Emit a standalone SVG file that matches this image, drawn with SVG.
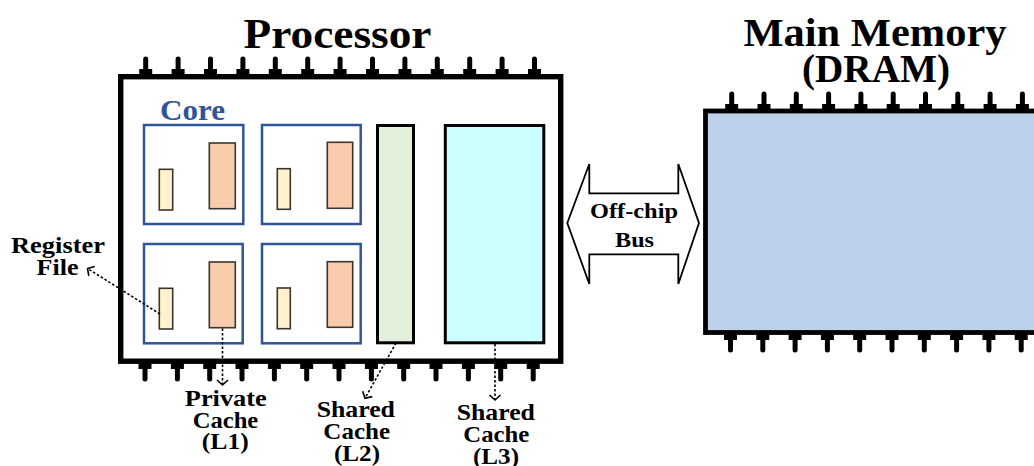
<svg xmlns="http://www.w3.org/2000/svg" width="1034" height="466" viewBox="0 0 1034 466">
<style>
  text { font-family: "Liberation Serif", "Times New Roman", serif; font-weight: bold; fill: #000; text-anchor: middle; }
  .title { font-size: 42px; }
  .lbl { font-size: 24px; }
  .core { fill: #fff; stroke: #2F5597; stroke-width: 2.5; }
  .reg { fill: #FFF2CC; stroke: #3A3530; stroke-width: 1.6; }
  .l1 { fill: #F8CBAD; stroke: #3A3530; stroke-width: 1.6; }
  .dot { fill: none; stroke: #000; stroke-width: 1.6; stroke-dasharray: 2.5 2; }
  .pin { fill: #000; }
</style>
<defs>
  <path id="pin" class="pin" d="M-2.5,-15 A2.5,2.5 0 0 1 2.5,-15 V-5 H6.5 V1.5 H-6.5 V-5 H-2.5 Z"/>
  <marker id="chev" viewBox="-7 -7 9 14" markerWidth="9" markerHeight="14" refX="0" refY="0" orient="auto" markerUnits="userSpaceOnUse">
    <path d="M-5,-5.5 L0,0 L-5,5.5" fill="none" stroke="#000" stroke-width="1.6"/>
  </marker>
</defs>

<!-- Processor -->
<g id="processor">
  <text class="title" x="337.5" y="48" textLength="188" lengthAdjust="spacingAndGlyphs">Processor</text>
  <g id="proc-pins-top">
    <use href="#pin" x="145.7" y="74"/><use href="#pin" x="178.1" y="74"/><use href="#pin" x="210.5" y="74"/>
    <use href="#pin" x="242.9" y="74"/><use href="#pin" x="275.3" y="74"/><use href="#pin" x="307.7" y="74"/>
    <use href="#pin" x="340.1" y="74"/><use href="#pin" x="372.5" y="74"/><use href="#pin" x="404.9" y="74"/>
    <use href="#pin" x="437.3" y="74"/><use href="#pin" x="469.7" y="74"/><use href="#pin" x="502.1" y="74"/>
    <use href="#pin" x="534.5" y="74"/>
  </g>
  <g id="proc-pins-bottom" transform="translate(0,364) scale(1,-1)">
    <use href="#pin" x="145" y="0"/><use href="#pin" x="177.4" y="0"/><use href="#pin" x="209.7" y="0"/>
    <use href="#pin" x="242" y="0"/><use href="#pin" x="274.4" y="0"/><use href="#pin" x="306.7" y="0"/>
    <use href="#pin" x="339" y="0"/><use href="#pin" x="371.4" y="0"/><use href="#pin" x="403.7" y="0"/>
    <use href="#pin" x="436" y="0"/><use href="#pin" x="468.4" y="0"/><use href="#pin" x="500.7" y="0"/>
    <use href="#pin" x="533.2" y="0"/>
  </g>
  <rect x="120.7" y="76.7" width="440" height="284.5" fill="#fff" stroke="#000" stroke-width="5.4"/>
  <text x="192.5" y="120" style="font-size:30px; fill:#2F5597" textLength="65" lengthAdjust="spacingAndGlyphs">Core</text>
</g>

<g id="core1">
  <rect class="core" x="144" y="125" width="99.3" height="99"/>
  <rect class="reg" x="159.3" y="169.3" width="13.4" height="40.7"/>
  <rect class="l1" x="209.3" y="143" width="26" height="65.7"/>
</g>
<g id="core2">
  <rect class="core" x="262" y="125" width="98.7" height="99"/>
  <rect class="reg" x="277.3" y="168.7" width="13" height="40.6"/>
  <rect class="l1" x="327.3" y="142.3" width="25.4" height="66"/>
</g>
<g id="core3">
  <rect class="core" x="144" y="244" width="98.7" height="99.3"/>
  <rect class="reg" x="159.3" y="288.3" width="13.4" height="40.7"/>
  <rect class="l1" x="209.3" y="262" width="26" height="65.7"/>
</g>
<g id="core4">
  <rect class="core" x="262" y="244" width="98.7" height="99.3"/>
  <rect class="reg" x="277.3" y="288" width="13" height="40.7"/>
  <rect class="l1" x="327.3" y="261.7" width="25.4" height="65.6"/>
</g>

<g id="l2-cache">
  <rect x="377.5" y="125.5" width="36" height="217.3" fill="#E2EFDA" stroke="#000" stroke-width="3"/>
</g>
<g id="l3-cache">
  <rect x="445.3" y="125.5" width="98.5" height="217.3" fill="#CCFFFF" stroke="#000" stroke-width="3"/>
</g>

<!-- Off-chip bus -->
<g id="bus">
  <path d="M567.3,223 L589.3,164 L589.3,193.3 L678.3,193.3 L678.3,164 L699,223 L678.3,284 L678.3,254.3 L589.3,254.3 L589.3,284 Z" fill="#fff" stroke="#000" stroke-width="1.8" stroke-linejoin="miter"/>
  <text x="634" y="218.3" style="font-size:22px" textLength="88" lengthAdjust="spacingAndGlyphs">Off-chip</text>
  <text x="634.5" y="246.7" style="font-size:22px" textLength="39" lengthAdjust="spacingAndGlyphs">Bus</text>
</g>

<!-- Main memory -->
<g id="memory">
  <text class="title" x="875" y="46" style="font-size:40px" textLength="263" lengthAdjust="spacingAndGlyphs">Main Memory</text>
  <text class="title" x="876" y="82" style="font-size:40px" textLength="148" lengthAdjust="spacingAndGlyphs">(DRAM)</text>
  <g id="mem-pins-top">
    <use href="#pin" x="731.7" y="109"/><use href="#pin" x="764" y="109"/><use href="#pin" x="796.3" y="109"/>
    <use href="#pin" x="828.6" y="109"/><use href="#pin" x="860.9" y="109"/><use href="#pin" x="893.2" y="109"/>
    <use href="#pin" x="925.5" y="109"/><use href="#pin" x="957.8" y="109"/><use href="#pin" x="990.1" y="109"/>
    <use href="#pin" x="1022.4" y="109"/>
  </g>
  <g id="mem-pins-bottom" transform="translate(0,335) scale(1,-1)">
    <use href="#pin" x="730.5" y="0"/><use href="#pin" x="762.8" y="0"/><use href="#pin" x="795.1" y="0"/>
    <use href="#pin" x="827.4" y="0"/><use href="#pin" x="859.7" y="0"/><use href="#pin" x="892" y="0"/>
    <use href="#pin" x="924.3" y="0"/><use href="#pin" x="956.6" y="0"/><use href="#pin" x="988.9" y="0"/>
    <use href="#pin" x="1021.2" y="0"/>
  </g>
  <rect x="705.5" y="111" width="340" height="221.5" fill="#BDD1EA" stroke="#000" stroke-width="4.8"/>
</g>

<!-- Labels -->
<g id="label-register">
  <text x="58" y="253" style="font-size:23px" textLength="94" lengthAdjust="spacingAndGlyphs">Register</text>
  <text x="57.5" y="275" style="font-size:23px" textLength="42" lengthAdjust="spacingAndGlyphs">File</text>
</g>
<g id="label-l1">
  <text class="lbl" x="225.8" y="406" textLength="82" lengthAdjust="spacingAndGlyphs">Private</text>
  <text class="lbl" x="225.5" y="428.3" textLength="65.6" lengthAdjust="spacingAndGlyphs">Cache</text>
  <text class="lbl" x="225.3" y="449" textLength="47" lengthAdjust="spacingAndGlyphs">(L1)</text>
</g>
<g id="label-l2">
  <text class="lbl" x="355.8" y="416.7" textLength="78.3" lengthAdjust="spacingAndGlyphs">Shared</text>
  <text class="lbl" x="356.7" y="439.3" textLength="66.7" lengthAdjust="spacingAndGlyphs">Cache</text>
  <text class="lbl" x="357" y="461" textLength="46" lengthAdjust="spacingAndGlyphs">(L2)</text>
</g>
<g id="label-l3">
  <text class="lbl" x="495.8" y="420" textLength="78.3" lengthAdjust="spacingAndGlyphs">Shared</text>
  <text class="lbl" x="496.3" y="441.7" textLength="66" lengthAdjust="spacingAndGlyphs">Cache</text>
  <text class="lbl" x="496" y="463.5" textLength="46" lengthAdjust="spacingAndGlyphs">(L3)</text>
</g>

<!-- Connectors -->
<g id="connectors">
  <line class="dot" x1="160" y1="314" x2="87.5" y2="268.5" marker-end="url(#chev)"/>
  <line class="dot" x1="222.5" y1="328.5" x2="222.5" y2="385" marker-end="url(#chev)"/>
  <line class="dot" x1="396" y1="343" x2="365" y2="398.3" marker-end="url(#chev)"/>
  <line class="dot" x1="495" y1="344" x2="495" y2="400" marker-end="url(#chev)"/>
</g>
</svg>
